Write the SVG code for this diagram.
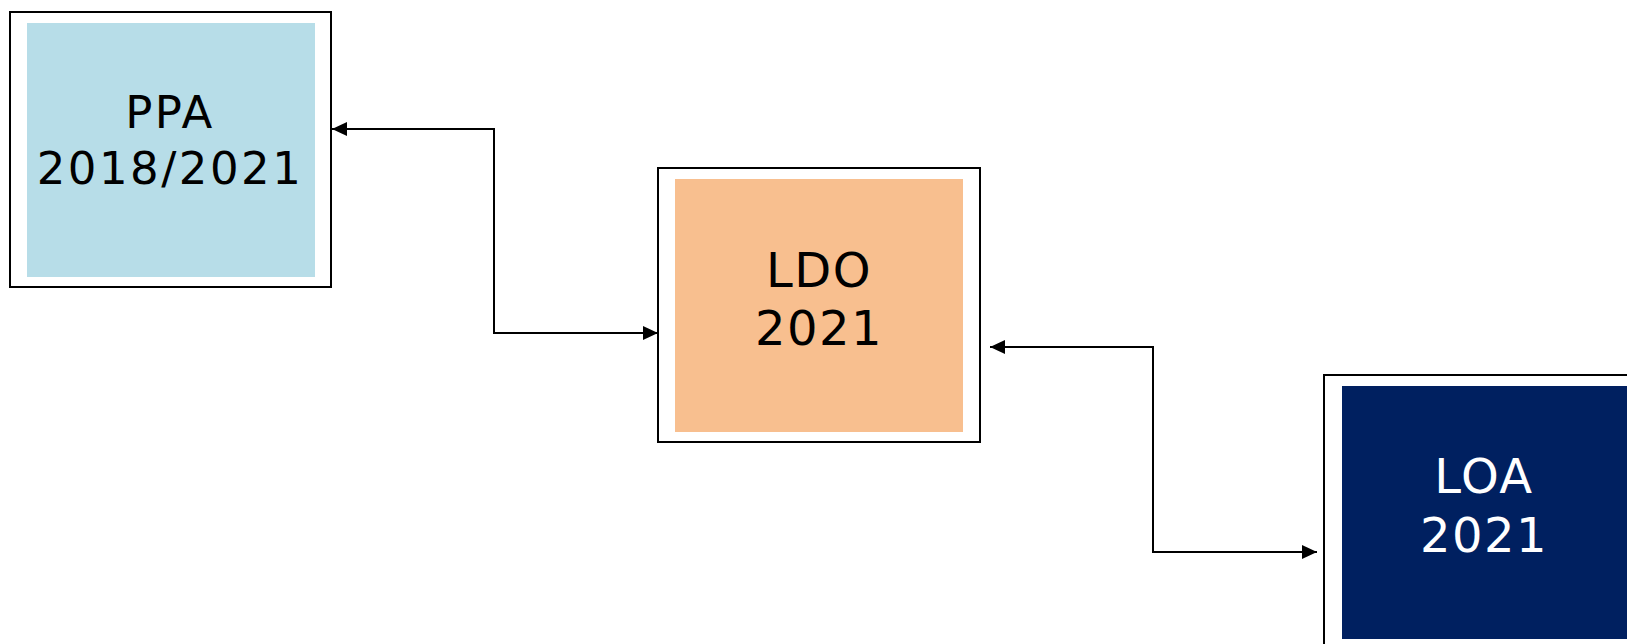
<svg xmlns="http://www.w3.org/2000/svg" width="1627" height="644" viewBox="0 0 1627 644">
<style>
.outer{fill:#ffffff;stroke:#000000;stroke-width:2}
.lbl{font-family:"DejaVu Sans","Liberation Sans",sans-serif;text-anchor:middle}
.conn{fill:none;stroke:#000000;stroke-width:2}
</style>
<defs>
<marker id="ah" viewBox="0 0 15 14" refX="15" refY="7" markerWidth="15" markerHeight="14" markerUnits="userSpaceOnUse" orient="auto-start-reverse">
<path d="M0,0 L15,7 L0,14 Z" fill="#000000"/>
</marker>
</defs>
<rect width="1627" height="644" fill="#ffffff"/>
<g id="ppa">
<rect class="outer" x="10" y="12" width="321" height="275"/>
<rect x="27" y="23" width="288" height="254" fill="#b7dde8"/>
<text class="lbl" x="170" y="128" font-size="45" letter-spacing="2.5" fill="#000000">PPA</text>
<text class="lbl" x="170" y="184" font-size="45" letter-spacing="2.5" fill="#000000">2018/2021</text>
</g>
<g id="ldo">
<rect class="outer" x="658" y="168" width="322" height="274"/>
<rect x="675" y="179" width="288" height="253" fill="#f8bf8f"/>
<text class="lbl" x="819" y="287" font-size="48" letter-spacing="1.5" fill="#000000">LDO</text>
<text class="lbl" x="819" y="345" font-size="48" letter-spacing="1.5" fill="#000000">2021</text>
</g>
<g id="loa">
<rect class="outer" x="1324" y="375" width="320" height="280"/>
<rect x="1342" y="386" width="300" height="253" fill="#002060"/>
<text class="lbl" x="1484" y="493" font-size="48" letter-spacing="1.5" fill="#ffffff">LOA</text>
<text class="lbl" x="1484" y="552" font-size="48" letter-spacing="1.5" fill="#ffffff">2021</text>
</g>
<g id="connectors">
<path class="conn" d="M332,129 H494 V333 H658" marker-start="url(#ah)" marker-end="url(#ah)"/>
<path class="conn" d="M990,347 H1153 V552 H1317" marker-start="url(#ah)" marker-end="url(#ah)"/>
</g>
</svg>
